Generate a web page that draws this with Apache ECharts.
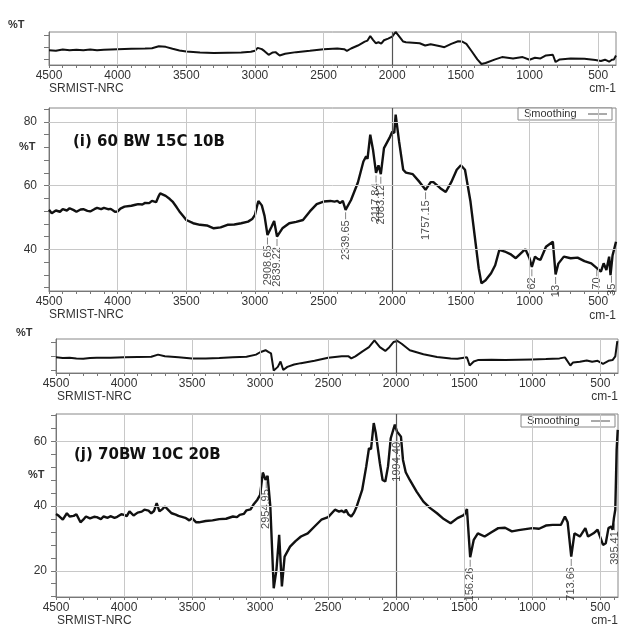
<!DOCTYPE html>
<html>
<head>
<meta charset="utf-8">
<script src="https://cdn.jsdelivr.net/npm/echarts@6.0.0/dist/echarts.min.js"></script>
<style>
  html, body { margin: 0; padding: 0; background: #fff; }
  #chart { width: 633px; height: 634px; }
</style>
</head>
<body>
<div id="chart"></div>
<script>
// wavenumber range (cm-1), axis runs right to left
var X_MAX = 4500;
var X_MIN = 370;
var xLabels = [500, 1000, 1500, 2000, 2500, 3000, 3500, 4000, 4500];
var xTicks = [];
for (var t = 400; t <= 4500; t += 100) xTicks.push(t);

// small overview panels, arbitrary %T units
var spec1 = [[4500,4.5],[4450,4.3],[4400,4.7],[4350,4.5],[4300,4.6],[4250,4.5],[4200,4.7],[4150,4.5],[4100,4.6],[4000,4.8],[3900,4.9],[3800,5.0],[3750,5.1],[3700,5.7],[3650,5.5],[3600,4.9],[3550,4.4],[3500,4.1],[3400,3.8],[3300,3.6],[3200,3.7],[3100,3.8],[3030,4.0],[3000,4.3],[2980,5.2],[2950,4.8],[2930,4.2],[2900,3.1],[2870,3.8],[2850,3.9],[2820,2.9],[2780,3.4],[2700,3.9],[2600,4.3],[2500,4.8],[2400,5.0],[2350,4.8],[2330,4.3],[2300,5.0],[2250,5.9],[2200,7.1],[2180,7.4],[2160,8.8],[2140,7.6],[2120,6.6],[2100,6.9],[2080,6.5],[2060,7.5],[2030,8.0],[2000,8.6],[1975,10],[1955,9.0],[1920,7.1],[1900,6.9],[1800,6.6],[1760,5.9],[1720,6.3],[1650,5.7],[1620,5.4],[1570,6.4],[1520,7.2],[1490,7.1],[1460,6.4],[1420,4.1],[1380,1.7],[1350,0.3],[1320,0.6],[1250,1.7],[1200,2.4],[1120,2.0],[1050,2.4],[1000,1.6],[960,2.2],[920,2.0],[880,2.9],[830,3.1],[810,0.9],[780,1.7],[700,2.0],[600,1.9],[520,1.5],[480,1.2],[450,1.6],[420,1.0],[400,1.6],[385,1.7],[370,2.9]];

var spec3 = [[4500,4.6],[4450,4.4],[4400,4.5],[4350,4.3],[4300,4.2],[4250,4.4],[4200,4.5],[4100,4.5],[4000,4.6],[3900,4.7],[3800,4.8],[3750,5.4],[3700,4.9],[3600,4.6],[3500,4.3],[3400,4.3],[3300,4.4],[3200,4.6],[3100,4.8],[3030,5.4],[3000,6.1],[2960,6.7],[2940,6.2],[2920,5.8],[2900,0.7],[2870,1.8],[2850,3.4],[2830,0.9],[2800,1.8],[2750,2.5],[2700,2.9],[2600,3.6],[2500,4.5],[2400,4.9],[2350,4.9],[2330,4.3],[2300,4.9],[2250,6.3],[2200,7.6],[2160,9.6],[2120,7.6],[2080,6.5],[2050,7.6],[2020,9.1],[1990,9.4],[1960,8.6],[1900,6.7],[1800,5.5],[1700,4.7],[1600,4.3],[1550,4.2],[1480,4.6],[1460,2.2],[1430,3.4],[1400,3.8],[1300,3.9],[1200,3.8],[1100,3.9],[1000,4.0],[900,4.1],[800,4.3],[760,4.6],[720,2.2],[700,3.1],[650,3.3],[600,3.7],[560,3.3],[520,3.6],[480,2.7],[440,3.6],[410,3.8],[390,4.9],[375,9.4]];

// (i) 60 BW 15C 10B
var spec2 = [[4500,52.4],[4480,51.3],[4450,52.2],[4420,51.8],[4400,52.6],[4370,52.2],[4350,52.9],[4320,52.3],[4300,51.8],[4270,52.5],[4250,52.6],[4220,52.1],[4200,51.9],[4170,52.6],[4150,53.0],[4120,52.6],[4100,53.0],[4070,52.6],[4050,52.7],[4020,51.8],[4000,51.9],[3980,52.8],[3950,53.4],[3900,53.7],[3870,54.0],[3850,54.2],[3820,54.1],[3800,54.6],[3770,54.5],[3750,55.2],[3720,54.8],[3700,56.8],[3690,57.6],[3670,57.2],[3650,56.8],[3620,55.8],[3600,55.0],[3570,53.2],[3550,51.9],[3520,50.3],[3500,49.2],[3450,48.2],[3400,47.7],[3350,47.5],[3300,46.6],[3250,46.9],[3200,47.7],[3150,47.8],[3100,48.2],[3050,48.7],[3020,49.5],[3000,50.8],[2985,53.5],[2975,55.2],[2950,53.8],[2930,50.5],[2908.65,44.5],[2880,47.0],[2860,48.9],[2839.22,44.0],[2800,46.6],[2750,48.2],[2700,48.6],[2650,49.2],[2600,51.9],[2550,54.2],[2500,55.0],[2450,55.2],[2420,55.0],[2400,55.2],[2380,54.5],[2360,55.2],[2339.65,52.4],[2300,55.5],[2250,61.0],[2210,67.6],[2190,69.2],[2180,68.4],[2160,76.0],[2140,71.3],[2117.84,64.0],[2100,66.4],[2083.12,63.6],[2060,71.8],[2020,75.0],[2000,76.9],[1985,76.6],[1975,82.3],[1950,73.9],[1920,65.0],[1900,64.1],[1850,63.6],[1800,61.1],[1757.15,58.7],[1720,61.1],[1700,61.1],[1650,59.2],[1610,58.0],[1570,61.1],[1530,65.0],[1500,66.4],[1470,65.0],[1430,55.0],[1400,44.5],[1370,34.0],[1350,29.3],[1320,30.3],[1280,32.5],[1250,35.0],[1220,39.8],[1180,39.3],[1140,38.5],[1100,37.2],[1050,39.3],[1030,40.0],[1000,37.2],[983,34.5],[960,37.7],[940,37.0],[920,36.7],[880,40.8],[830,42.4],[810,32.1],[790,35.5],[750,37.7],[700,37.2],[650,37.4],[600,36.3],[550,35.6],[520,34.5],[480,33.0],[460,35.6],[440,33.5],[420,37.7],[410,31.9],[395,38.1],[385,39.8],[370,42.4]];

// (j) 70BW 10C 20B
var spec4 = [[4500,37.6],[4480,37.0],[4450,35.8],[4420,37.8],[4400,36.8],[4370,37.0],[4350,37.5],[4320,35.0],[4300,35.8],[4280,36.8],[4250,36.2],[4220,36.7],[4200,36.6],[4170,36.0],[4150,36.8],[4120,36.4],[4100,36.9],[4070,36.4],[4050,36.7],[4020,37.5],[4000,37.3],[3980,36.9],[3960,38.4],[3930,37.1],[3900,38.0],[3870,38.3],[3850,38.9],[3820,38.6],[3800,37.8],[3780,38.5],[3760,40.9],[3740,38.4],[3720,39.0],[3700,39.9],[3670,38.6],[3650,37.8],[3620,37.4],[3600,37.0],[3550,36.4],[3520,35.6],[3500,36.3],[3470,35.0],[3450,35.0],[3400,35.4],[3350,35.6],[3300,36.0],[3250,36.1],[3200,36.8],[3170,36.6],[3150,37.3],[3120,37.6],[3100,38.7],[3070,39.0],[3050,40.4],[3020,42.0],[3000,43.5],[2980,50.4],[2960,48.1],[2945,49.4],[2925,39.9],[2900,14.6],[2880,20.3],[2860,31.1],[2840,15.2],[2820,24.4],[2780,27.5],[2740,29.2],[2700,30.6],[2650,31.6],[2600,33.7],[2550,35.8],[2500,36.6],[2450,38.9],[2420,38.3],[2400,38.6],[2380,38.0],[2370,38.9],[2350,37.4],[2330,36.8],[2310,38.0],[2290,39.9],[2250,45.0],[2220,52.3],[2200,57.9],[2185,57.6],[2165,65.7],[2150,62.6],[2120,53.3],[2100,48.1],[2080,47.6],[2060,52.3],[2040,61.0],[2010,65.2],[1994.4,63.1],[1980,63.6],[1965,61.5],[1950,54.3],[1930,50.5],[1900,48.1],[1850,44.5],[1800,41.4],[1750,39.4],[1700,37.8],[1650,36.0],[1600,34.7],[1550,36.3],[1500,37.3],[1480,39.1],[1456.26,24.2],[1430,29.6],[1400,31.6],[1350,30.6],[1300,31.9],[1250,33.2],[1200,33.3],[1150,32.2],[1100,32.6],[1050,32.9],[1000,33.2],[950,33.0],[900,34.0],[850,34.2],[790,34.2],[760,36.8],[740,35.0],[713.66,24.4],[690,31.6],[650,30.6],[610,33.2],[590,30.6],[550,31.6],[520,32.7],[480,28.0],[460,28.5],[440,33.2],[420,33.7],[410,32.7],[400,36.3],[390,38.9],[380,57.4],[372,63.6]];

// peak labels: [wavenumber, %T at peak, text]
var peaks2 = [[2908.65,44.5,'2908.65'],[2839.22,44.0,'2839.22'],[2339.65,52.4,'2339.65'],[2117.84,64.0,'2117.84'],[2083.12,63.6,'2083.12'],[1757.15,58.7,'1757.15'],[983,34.5,'62'],[810,32.1,'13'],[510,34.5,'70'],[403,32.5,'35']];
var peaks4 = [[2954.95,48.5,'2954.95'],[1994.40,63.1,'1994.40'],[1456.26,24.2,'156.26'],[713.66,24.4,'713.66'],[395.41,35.5,'395.41']];

var y2Labels = [40, 60, 80];
var y4Labels = [20, 40, 60];
var y2Ticks = [], y4Ticks = [];
for (var a = 28; a <= 84; a += 4) y2Ticks.push(a);
for (var b = 12; b <= 68; b += 4) y4Ticks.push(b);
var ySmallTicks = [1.7, 5.5, 9.1];
var ySmallTicks3 = [0.7, 4.8, 8.9];

var FONT = "'Liberation Sans', Arial, sans-serif";

function xAxisFor(i) {
    return {
        type: 'value', gridIndex: i, inverse: true, min: X_MIN, max: X_MAX,
        axisLine: { show: true, lineStyle: { color: '#777' } },
        axisTick: { show: true, customValues: xTicks, length: 3, lineStyle: { color: '#777' } },
        axisLabel: {
            customValues: xLabels, margin: 5, color: '#333', fontSize: 12, fontFamily: FONT,
            formatter: function (v) { return String(v); }
        },
        splitLine: { show: false }
    };
}

function yAxisFor(i, min, max, ticks, labels, margin) {
    return {
        type: 'value', gridIndex: i, min: min, max: max,
        axisLine: { show: true, lineStyle: { color: '#777' } },
        axisTick: { show: true, customValues: ticks, length: 5, lineStyle: { color: '#777' } },
        axisLabel: labels ? { customValues: labels, margin: margin, color: '#333', fontSize: 12, fontFamily: FONT } : { show: false },
        splitLine: { show: false }
    };
}

function gridLines(ys) {
    var d = [];
    xLabels.forEach(function (v) {
        if (v === 2000 || v === 4500) return;
        d.push({ xAxis: v, lineStyle: { color: '#c8c8c8', width: 1, type: 'solid' } });
    });
    d.push({ xAxis: 2000, lineStyle: { color: '#555', width: 1.2, type: 'solid' } });
    (ys || []).forEach(function (v) {
        d.push({ yAxis: v, lineStyle: { color: '#c8c8c8', width: 1, type: 'solid' } });
    });
    return { silent: true, symbol: ['none', 'none'], label: { show: false }, animation: false, data: d };
}

function spectrum(i, data, ys, width) {
    return {
        type: 'line', xAxisIndex: i, yAxisIndex: i, data: data,
        showSymbol: false, smooth: false, z: 3,
        lineStyle: { color: '#111', width: width },
        markLine: gridLines(ys)
    };
}

function peakSeries(i, peaks) {
    return {
        type: 'scatter', xAxisIndex: i, yAxisIndex: i, silent: true, z: 4,
        symbol: 'rect', symbolSize: [1, 7], symbolOffset: [0, 6],
        itemStyle: { color: '#666' },
        data: peaks.map(function (p) {
            return { value: [p[0], p[1]], label: { formatter: p[2] } };
        }),
        label: {
            show: true, position: 'bottom', distance: 1, rotate: 90,
            align: 'right', verticalAlign: 'middle',
            fontSize: 11, color: '#222', fontFamily: FONT
        }
    };
}

function txt(left, top, text, size, bold, extra) {
    var el = {
        type: 'text', left: left, top: top, z: 10,
        style: { text: text, fontSize: size, fontWeight: bold ? 'bold' : 'normal', fill: '#333', fontFamily: FONT }
    };
    if (extra) for (var k in extra) el[k] = extra[k];
    return el;
}

function title(left, top, text) {
    return {
        type: 'text', left: left, top: top, z: 10,
        style: { text: text, fontSize: 15, fontWeight: 'bold', fill: '#111', fontFamily: "'DejaVu Sans', sans-serif" }
    };
}

function legendBox(x, y) {
    return {
        type: 'group', x: x, y: y, z: 10,
        children: [
            { type: 'rect', shape: { x: 0, y: 0, width: 94, height: 12 }, style: { fill: '#fff', stroke: '#888', lineWidth: 1 } },
            { type: 'text', x: 6, y: 0.5, style: { text: 'Smoothing', fontSize: 11, fill: '#333', fontFamily: FONT } },
            { type: 'line', shape: { x1: 70, y1: 6, x2: 89, y2: 6 }, style: { stroke: '#555', lineWidth: 1 } }
        ]
    };
}

var option = {
    backgroundColor: '#fff',
    animation: false,
    grid: [
        { left: 49, right: 17, top: 32, height: 33, show: true, borderColor: '#888', borderWidth: 1 },
        { left: 49, right: 17, top: 108, height: 183, show: true, borderColor: '#888', borderWidth: 1 },
        { left: 56, right: 15, top: 339, height: 34, show: true, borderColor: '#888', borderWidth: 1 },
        { left: 56, right: 15, top: 414, height: 183, show: true, borderColor: '#888', borderWidth: 1 }
    ],
    xAxis: [xAxisFor(0), xAxisFor(1), xAxisFor(2), xAxisFor(3)],
    yAxis: [
        yAxisFor(0, 0, 10, ySmallTicks, null),
        yAxisFor(1, 26.9, 84.4, y2Ticks, y2Labels, 12),
        yAxisFor(2, 0, 10, ySmallTicks3, null),
        yAxisFor(3, 11.9, 68.5, y4Ticks, y4Labels, 9)
    ],
    series: [
        spectrum(0, spec1, null, 2),
        spectrum(1, spec2, y2Labels, 2.4),
        spectrum(2, spec3, null, 2),
        spectrum(3, spec4, y4Labels, 2.4),
        peakSeries(1, peaks2),
        peakSeries(3, peaks4)
    ],
    graphic: [
        txt(8, 19, '%T', 11, true),
        txt(49, 83, 'SRMIST-NRC', 12, false),
        txt(null, 83, 'cm-1', 12, false, { right: 17 }),
        txt(19, 141, '%T', 11, true),
        title(73, 135, '(i) 60 BW 15C 10B'),
        txt(49, 309, 'SRMIST-NRC', 12, false),
        txt(null, 310, 'cm-1', 12, false, { right: 17 }),
        txt(16, 327, '%T', 11, true),
        txt(57, 391, 'SRMIST-NRC', 12, false),
        txt(null, 391, 'cm-1', 12, false, { right: 15 }),
        txt(28, 469, '%T', 11, true),
        title(74, 448, '(j) 70BW 10C 20B'),
        txt(57, 615, 'SRMIST-NRC', 12, false),
        txt(null, 615, 'cm-1', 12, false, { right: 15 }),
        legendBox(518, 108),
        legendBox(521, 415)
    ]
};

var myChart = echarts.init(document.getElementById('chart'));
myChart.setOption(option);
</script>
</body>
</html>
